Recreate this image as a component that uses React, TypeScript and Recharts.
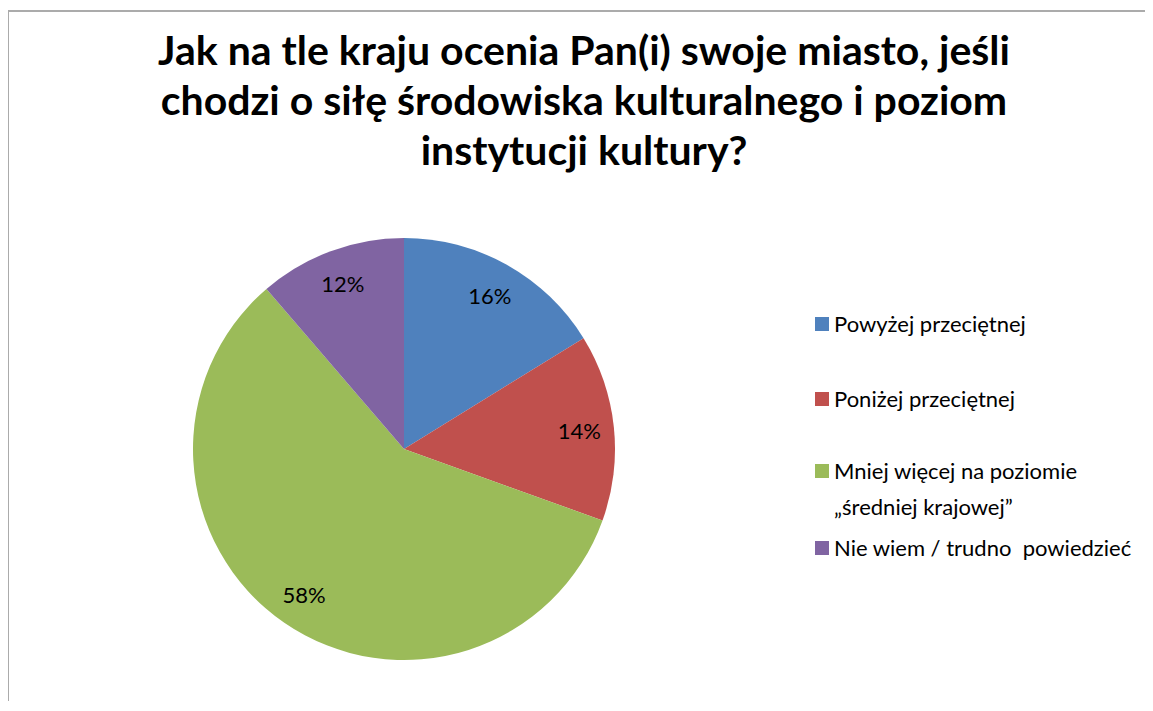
import React from "react";
import { PieChart, Pie, Cell, Legend } from "recharts";

const categories = [
  "Powyżej przeciętnej",
  "Poniżej przeciętnej",
  "Mniej więcej na poziomie „średniej krajowej”",
  "Nie wiem / trudno powiedzieć",
];
const legendLines = [
  ["Powyżej przeciętnej"],
  ["Poniżej przeciętnej"],
  ["Mniej więcej na poziomie", "„średniej krajowej”"],
  ["Nie wiem / trudno  powiedzieć"],
];
const shares = [16.2, 14.3, 58.2, 11.3];
const pctLabels = ["16%", "14%", "58%", "12%"];
const colors = ["#4F81BD", "#C0504D", "#9BBB59", "#8064A2"];
const titleLines = [
  "Jak na tle kraju ocenia Pan(i) swoje miasto, jeśli",
  "chodzi o siłę środowiska kulturalnego i poziom",
  "instytucji kultury?",
];

const data = categories.map((name, i) => ({ name, value: shares[i] }));

const RAD = Math.PI / 180;
const FONT = "Lato, 'Open Sans', sans-serif";

const renderLabel = (p: any) => {
  const r = p.outerRadius * 0.835;
  const x = p.cx + r * Math.cos(-p.midAngle * RAD);
  const y = p.cy + r * Math.sin(-p.midAngle * RAD);
  return (
    <text
      x={x}
      y={y}
      textAnchor="middle"
      dominantBaseline="central"
      fill="#000"
      fontSize={22}
      fontFamily={FONT}
    >
      {pctLabels[p.index]}
    </text>
  );
};

const legendGaps = [0, 39, 36, 5];

const LegendContent = () => (
  <div style={{ fontFamily: FONT, fontSize: 22, color: "#000", lineHeight: "36px" }}>
    {legendLines.map((lines, i) => (
      <div key={i} style={{ display: "flex", alignItems: "flex-start", marginTop: legendGaps[i] }}>
        <div
          style={{
            width: 14,
            height: 14,
            background: colors[i],
            marginTop: 11,
            marginRight: 5,
            flexShrink: 0,
          }}
        />
        <div style={{ whiteSpace: "pre" }}>
          {lines.map((l, j) => (
            <div key={j}>{l}</div>
          ))}
        </div>
      </div>
    ))}
  </div>
);

export default function App() {
  return (
    <div
      style={{
        position: "relative",
        width: 1144,
        height: 689,
        marginLeft: -1,
        marginTop: 2,
        borderTop: "2px solid #ababab",
        borderLeft: "2px solid #ababab",
        background: "#fff",
        overflow: "hidden",
      }}
    >
      <div
        style={{
          position: "absolute",
          left: 0,
          top: 13,
          width: 1150,
          textAlign: "center",
          fontFamily: FONT,
          fontWeight: 700,
          fontSize: 41,
          lineHeight: "50px",
          color: "#000",
        }}
      >
        {titleLines.map((t, i) => (
          <div key={i}>{t}</div>
        ))}
      </div>
      <PieChart width={1140} height={685} style={{ position: "absolute", left: 0, top: 0 }}>
        <Pie
          data={data}
          dataKey="value"
          nameKey="name"
          cx={390}
          cy={432}
          outerRadius={211}
          startAngle={90}
          endAngle={-270}
          stroke="none"
          label={renderLabel}
          labelLine={false}
          isAnimationActive={false}
        >
          {data.map((d, i) => (
            <Cell key={d.name} fill={colors[i]} />
          ))}
        </Pie>
        <Legend
          content={<LegendContent />}
          wrapperStyle={{ position: "absolute", left: 806, top: 294, width: 340 }}
        />
      </PieChart>
    </div>
  );
}
